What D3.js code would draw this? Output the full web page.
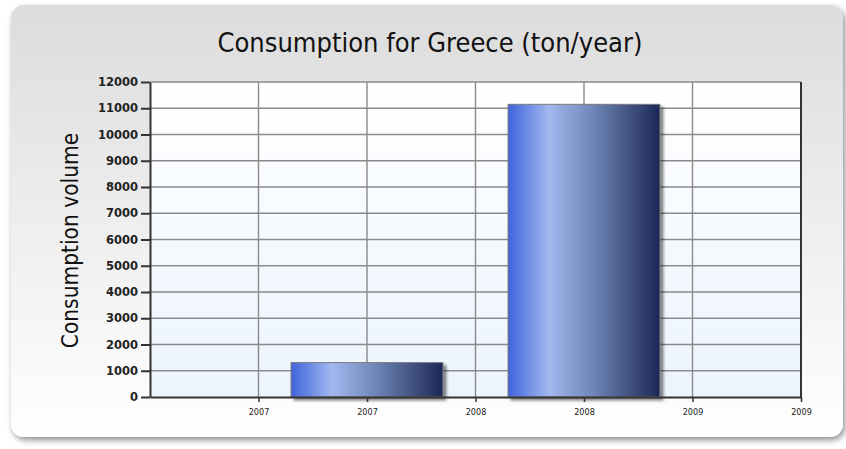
<!DOCTYPE html>
<html>
<head>
<meta charset="utf-8">
<script src="https://cdn.jsdelivr.net/npm/d3@7/dist/d3.min.js"></script>
<style>
  html, body { margin: 0; padding: 0; background: #ffffff; }
  svg { display: block; }
</style>
</head>
<body>
<svg id="chart" width="846" height="449"></svg>
<script>
// Yearly consumption, bars centred on mid-year positions
const years = [2007.5, 2008.5];
const consumption = [1310, 11150];
const xTicks = [2007, 2007.5, 2008, 2008.5, 2009, 2009.5];
const yTicks = [0, 1000, 2000, 3000, 4000, 5000, 6000, 7000, 8000, 9000, 10000, 11000, 12000];

const title = "Consumption for Greece (ton/year)";
const yTitle = "Consumption volume";

const svg = d3.select("#chart");
const defs = svg.append("defs");

// Card background
const cardGrad = defs.append("linearGradient").attr("id", "cardGrad")
  .attr("x1", 0).attr("y1", 0).attr("x2", 0).attr("y2", 1);
cardGrad.append("stop").attr("offset", "0%").attr("stop-color", "#dcdcdc");
cardGrad.append("stop").attr("offset", "45%").attr("stop-color", "#ececec");
cardGrad.append("stop").attr("offset", "100%").attr("stop-color", "#ffffff");

const shadow = defs.append("filter").attr("id", "cardShadow")
  .attr("x", "-5%").attr("y", "-5%").attr("width", "110%").attr("height", "115%");
shadow.append("feGaussianBlur").attr("in", "SourceAlpha").attr("stdDeviation", 3).attr("result", "b");
shadow.append("feOffset").attr("in", "b").attr("dx", 2).attr("dy", 3).attr("result", "o");
shadow.append("feComponentTransfer").attr("in", "o").attr("result", "s")
  .append("feFuncA").attr("type", "linear").attr("slope", 0.45);
const m1 = shadow.append("feMerge");
m1.append("feMergeNode").attr("in", "s");
m1.append("feMergeNode").attr("in", "SourceGraphic");

svg.append("rect")
  .attr("x", 11).attr("y", 5).attr("width", 832).attr("height", 432)
  .attr("rx", 13).attr("ry", 13)
  .attr("fill", "url(#cardGrad)")
  .attr("filter", "url(#cardShadow)");

// Plot area
const plot = { left: 150, right: 801, top: 82, bottom: 397 };

const x = d3.scaleLinear().domain([2006.5, 2009.5]).range([plot.left, plot.right]);
const y = d3.scaleLinear().domain([0, 12000]).range([plot.bottom, plot.top]);

const plotGrad = defs.append("linearGradient").attr("id", "plotGrad")
  .attr("x1", 0).attr("y1", 0).attr("x2", 0).attr("y2", 1);
plotGrad.append("stop").attr("offset", "0%").attr("stop-color", "#ffffff");
plotGrad.append("stop").attr("offset", "100%").attr("stop-color", "#ecf4fe");

svg.append("rect")
  .attr("x", plot.left).attr("y", plot.top)
  .attr("width", plot.right - plot.left).attr("height", plot.bottom - plot.top)
  .attr("fill", "url(#plotGrad)");

// Grid lines
svg.append("g").selectAll("line.h").data(yTicks.filter(d => d > 0)).join("line")
  .attr("x1", plot.left).attr("x2", plot.right)
  .attr("y1", d => y(d)).attr("y2", d => y(d))
  .attr("stroke", "#8a8a8a").attr("stroke-width", 1.4);
svg.append("g").selectAll("line.v").data(xTicks.slice(0, -1)).join("line")
  .attr("x1", d => x(d)).attr("x2", d => x(d))
  .attr("y1", plot.top).attr("y2", plot.bottom)
  .attr("stroke", "#8a8a8a").attr("stroke-width", 1.4);

// Bars
const barGrad = defs.append("linearGradient").attr("id", "barGrad")
  .attr("x1", 0).attr("y1", 0).attr("x2", 1).attr("y2", 0);
[["0%", "#3f63dc"], ["27%", "#a3b8ef"], ["55%", "#7088b8"], ["100%", "#1c2757"]]
  .forEach(([o, c]) => barGrad.append("stop").attr("offset", o).attr("stop-color", c));

const barShadow = defs.append("filter").attr("id", "barShadow")
  .attr("x", "-10%").attr("y", "-10%").attr("width", "125%").attr("height", "125%");
barShadow.append("feGaussianBlur").attr("in", "SourceAlpha").attr("stdDeviation", 1.5).attr("result", "b");
barShadow.append("feOffset").attr("in", "b").attr("dx", 3).attr("dy", 3).attr("result", "o");
barShadow.append("feComponentTransfer").attr("in", "o").attr("result", "s")
  .append("feFuncA").attr("type", "linear").attr("slope", 0.5);
const m2 = barShadow.append("feMerge");
m2.append("feMergeNode").attr("in", "s");
m2.append("feMergeNode").attr("in", "SourceGraphic");

const halfBar = 0.35; // half bar width, in x-axis units
svg.append("g").selectAll("rect").data(years.map((yr, i) => ({ yr, v: consumption[i] }))).join("rect")
  .attr("x", d => x(d.yr - halfBar))
  .attr("width", d => x(d.yr + halfBar) - x(d.yr - halfBar))
  .attr("y", d => y(d.v))
  .attr("height", d => y(0) - y(d.v))
  .attr("fill", "url(#barGrad)")
  .attr("stroke", "#7a7a7a").attr("stroke-width", 1)
  .attr("filter", "url(#barShadow)");

// Axes
const yAxis = svg.append("g")
  .attr("transform", `translate(${plot.left},0)`)
  .call(d3.axisLeft(y).tickValues(yTicks).tickFormat(d3.format("d")).tickSize(9).tickSizeOuter(0).tickPadding(3));
yAxis.select(".domain").attr("stroke", "#333").attr("stroke-width", 2);
yAxis.selectAll(".tick line").attr("stroke", "#333").attr("stroke-width", 2);
yAxis.selectAll(".tick text")
  .attr("font-family", "Verdana, 'DejaVu Sans', sans-serif")
  .attr("font-size", 11.5).attr("font-weight", "bold").attr("fill", "#222");

const xAxis = svg.append("g")
  .attr("transform", `translate(0,${plot.bottom})`)
  .call(d3.axisBottom(x).tickValues(xTicks).tickFormat(d => Math.floor(d)).tickSize(5).tickSizeOuter(0).tickPadding(7));
xAxis.select(".domain").attr("stroke", "#333").attr("stroke-width", 2);
xAxis.selectAll(".tick line").attr("stroke", "#333").attr("stroke-width", 1.5);
xAxis.selectAll(".tick text")
  .attr("font-family", "'DejaVu Sans Condensed', 'DejaVu Sans', sans-serif")
  .attr("font-size", 9).attr("fill", "#222");

// Right border of the plot area
svg.append("line")
  .attr("x1", plot.right).attr("x2", plot.right)
  .attr("y1", plot.top).attr("y2", plot.bottom)
  .attr("stroke", "#333").attr("stroke-width", 2);

// Titles
svg.append("text")
  .attr("x", 430).attr("y", 52)
  .attr("text-anchor", "middle")
  .attr("font-family", "'DejaVu Sans Condensed', 'DejaVu Sans', sans-serif")
  .attr("font-size", 27).attr("fill", "#111")
  .text(title);

svg.append("text")
  .attr("transform", `translate(78,${(plot.top + plot.bottom) / 2 + 1}) rotate(-90)`)
  .attr("text-anchor", "middle")
  .attr("font-family", "'DejaVu Sans Condensed', 'DejaVu Sans', sans-serif")
  .attr("font-size", 22.5).attr("fill", "#111")
  .text(yTitle);
</script>
</body>
</html>
